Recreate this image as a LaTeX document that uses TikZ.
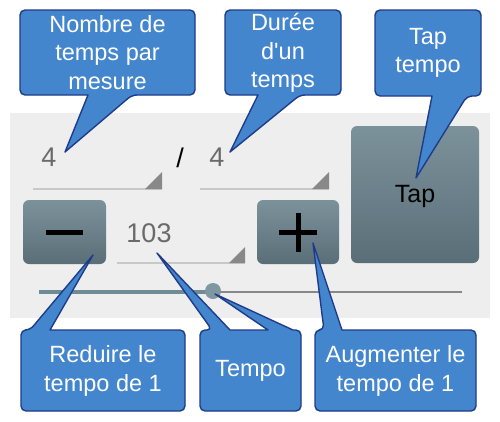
\documentclass[tikz,border=0pt]{standalone}
\usepackage{fontspec}
\setmainfont{Liberation Sans}[Ligatures=TeXOff]
\definecolor{cfill}{HTML}{4386CE}
\definecolor{cborder}{HTML}{1F3C88}
\definecolor{panelc}{HTML}{EEEEEE}
\definecolor{btop}{HTML}{7C929B}
\definecolor{bbot}{HTML}{5A6E78}
\definecolor{digitc}{HTML}{6A6A6A}
\definecolor{ulinec}{HTML}{C8C8C8}
\definecolor{tric}{HTML}{888888}
\definecolor{sliderc}{HTML}{6F8B95}
\definecolor{thumbc}{HTML}{7F97A1}
\begin{document}
\begin{tikzpicture}[x=1pt,y=-1pt,
  callout/.style={fill=cfill, draw=cborder, line width=1.4pt, line join=round},
  ctext/.style={text=white, align=center, inner sep=0pt, font=\fontsize{23.5}{28.5}\selectfont},
  digit/.style={text=digitc, inner sep=0pt, font=\fontsize{27}{30}\selectfont},
  uline/.style={draw=ulinec, line width=1.5pt},
  tri/.style={fill=tric},
  btn/.style={top color=btop, bottom color=bbot, rounded corners=6pt}]
\useasboundingbox (0,0) rectangle (500,421);
\fill[white] (0,0) rectangle (500,421);
% panel
\fill[panelc] (10,113) rectangle (490,318);
% text fields
\node[digit] (n1) at (49,157.5) {4};
\node[inner sep=0pt, font=\fontsize{27}{30}\selectfont] (sl) at (180,158) {/};
\node[digit] (n2) at (217,157.5) {4};
\draw[uline] (33,189) -- (162,189);
\fill[tri] (145,189) -- (162,189) -- (162,172) -- cycle;
\draw[uline] (200,189) -- (329,189);
\fill[tri] (312,189) -- (329,189) -- (329,172) -- cycle;
\node[digit] (bpm) at (149,233) {103};
\draw[uline] (117,263) -- (245,263);
\fill[tri] (229,263) -- (245,263) -- (245,247) -- cycle;
% buttons
\shade[btn] (23,200) rectangle (106,264);
\fill (46,230) rectangle (83,235);
\shade[btn] (257,200) rectangle (339,264);
\fill (279,229.5) rectangle (317,234.5);
\fill (295.5,213) rectangle (300.5,252);
\shade[btn] (351,126) rectangle (479,263);
\node[inner sep=0pt, font=\fontsize{25}{28}\selectfont] (tap) at (415,196) {Tap};
% slider
\draw[line width=1.2pt, color=tric] (213,292) -- (462,292);
\draw[line width=4pt, color=sliderc] (39,292) -- (213,292);
\fill[thumbc] (213,291) circle (8);
% top callouts
\path[callout, rounded corners=5pt] (100,10) -- (195,10) -- (195,95) -- (132,95) [sharp corners] -- (65,152) -- (88,95) [rounded corners=5pt] -- (20,95) -- (20,10) -- cycle;
\node[ctext] (c1) at (107.5,52.5) {Nombre de\\temps par\\mesure};
\path[callout, rounded corners=5pt] (283,10) -- (341,10) -- (341,95) -- (300,95) [sharp corners] -- (230,152) -- (258,95) [rounded corners=5pt] -- (225,95) -- (225,10) -- cycle;
\node[ctext] (c2) at (283,53) {Durée\\d'un\\temps};
\path[callout, rounded corners=5pt] (428,10) -- (481,10) -- (481,96) -- (467,96) [sharp corners] -- (416,178) -- (432,96) [rounded corners=5pt] -- (375,96) -- (375,10) -- cycle;
\node[ctext] (c3) at (428,53) {Tap\\tempo};
% bottom callouts
\path[callout, rounded corners=5pt] (103,411) -- (21,411) -- (21,330) -- (30,330) [sharp corners] -- (93,255) -- (50,330) [rounded corners=5pt] -- (185,330) -- (185,411) -- cycle;
\node[ctext] (b1) at (103,371) {Reduire le\\tempo de 1};
\path[callout, rounded corners=5pt] (250,411) -- (200,411) -- (200,330) -- (212,330) [sharp corners] -- (157,253) -- (230,330) -- (268,330) -- (215,294) -- (293,330) [rounded corners=5pt] -- (301,330) -- (301,411) -- cycle;
\node[ctext] (b2) at (250.5,371) {Tempo};
\path[callout, rounded corners=5pt] (395,411) -- (315,411) -- (315,330) -- (324,330) [sharp corners] -- (313,243) -- (342,330) [rounded corners=5pt] -- (476,330) -- (476,411) -- cycle;
\node[ctext] (b3) at (395.5,371) {Augmenter le\\tempo de 1};
\end{tikzpicture}
\end{document}
